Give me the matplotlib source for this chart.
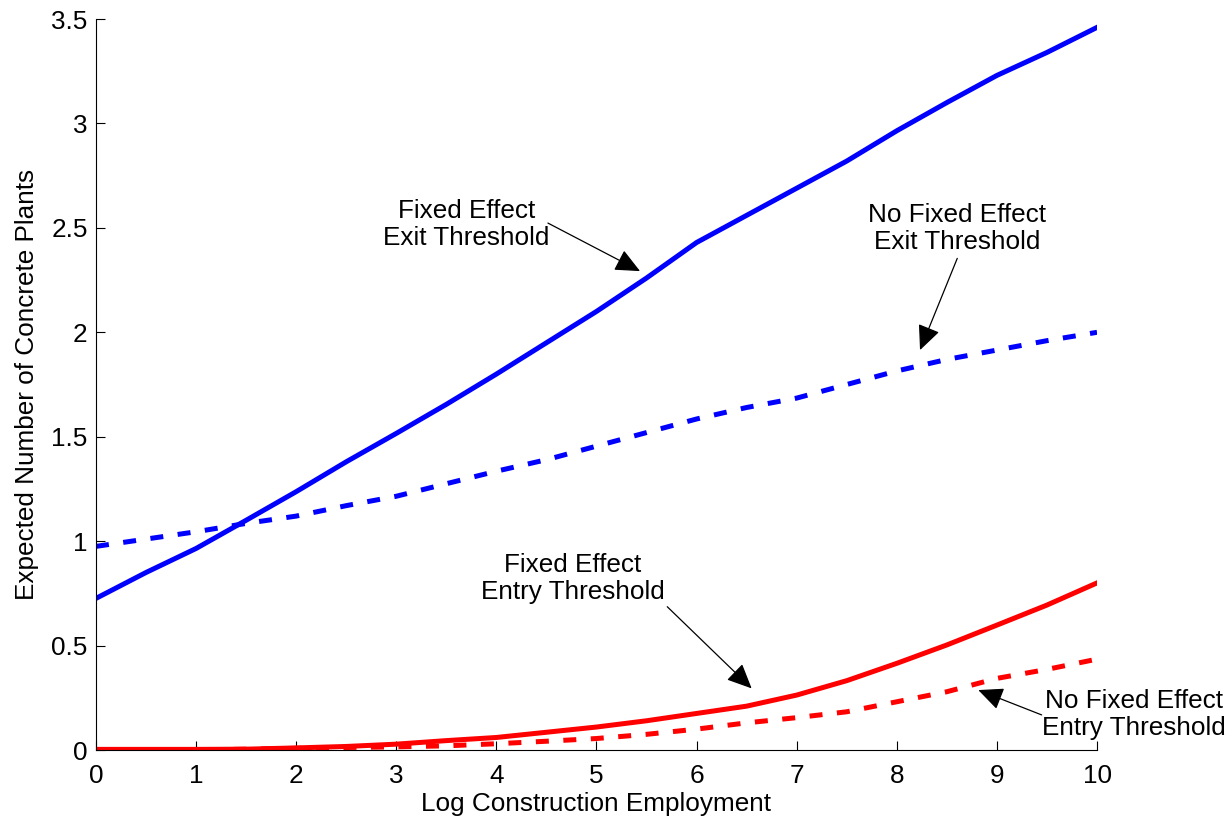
import matplotlib
matplotlib.use("Agg")
import matplotlib.pyplot as plt

plt.rcParams['font.family'] = ['Liberation Sans', 'DejaVu Sans']
plt.rcParams['font.size'] = 18.8

# log construction employment grid
x = [0, 0.5, 1, 1.5, 2, 2.5, 3, 3.5, 4, 4.5, 5,
     5.5, 6, 6.5, 7, 7.5, 8, 8.5, 9, 9.5, 10]

# expected number of plants under each threshold
fe_exit = [0.726, 0.85, 0.965, 1.10, 1.237, 1.38, 1.516, 1.655, 1.80, 1.95, 2.10,
           2.26, 2.43, 2.56, 2.69, 2.82, 2.965, 3.10, 3.23, 3.34, 3.46]
nofe_exit = [0.975, 1.01, 1.045, 1.085, 1.12, 1.17, 1.215, 1.275, 1.335, 1.39, 1.455,
             1.52, 1.585, 1.64, 1.685, 1.75, 1.815, 1.87, 1.915, 1.96, 2.0]
fe_entry = [0.003, 0.003, 0.003, 0.004, 0.01, 0.017, 0.028, 0.045, 0.06, 0.085, 0.11,
            0.14, 0.175, 0.21, 0.263, 0.332, 0.415, 0.503, 0.598, 0.694, 0.80]
nofe_entry = [0.0, 0.0, 0.0, 0.004, 0.008, 0.012, 0.015, 0.02, 0.03, 0.042, 0.055,
              0.075, 0.10, 0.13, 0.155, 0.183, 0.231, 0.279, 0.343, 0.386, 0.435]

yticks = [0, 0.5, 1, 1.5, 2, 2.5, 3, 3.5]
ytick_labels = ['0', '0.5', '1', '1.5', '2', '2.5', '3', '3.5']

fig = plt.figure(figsize=(12.29, 8.17), dpi=100)
ax = fig.add_axes([0.0781, 0.082, 0.8145, 0.8947])

lw = 3.6
dash = (2.6, 2.9)
ax.plot(x, fe_exit, color='b', lw=lw)
ax.plot(x, nofe_exit, color='b', lw=lw, dashes=dash)
ax.plot(x, fe_entry, color='r', lw=lw)
ax.plot(x, nofe_entry, color='r', lw=lw, dashes=dash)

ax.set_xlim(0, 10)
ax.set_ylim(0, 3.5)
ax.set_xticks(range(11))
ax.set_yticks(yticks)
ax.set_yticklabels(ytick_labels)
ax.spines['top'].set_visible(False)
ax.spines['right'].set_visible(False)
for s in ['left', 'bottom']:
    ax.spines[s].set_linewidth(0.8)
ax.tick_params(direction='in', length=6.5, width=0.8)
ax.tick_params(axis='x', pad=10)
ax.tick_params(axis='y', pad=6)

ax.set_xlabel('Log Construction Employment', labelpad=3)
ax.set_ylabel('Expected Number of Concrete Plants', labelpad=9)

arrow = dict(arrowstyle='-|>,head_length=1.1,head_width=0.5',
             mutation_scale=14, lw=0.9, color='k', shrinkA=0, shrinkB=0)

# (label, text position, arrow tail, arrow tip)
notes = [
    ('Fixed Effect\nExit Threshold', (3.70, 2.518), (4.515, 2.523), (5.435, 2.293)),
    ('No Fixed Effect\nExit Threshold', (8.60, 2.499), (8.604, 2.354), (8.232, 1.915)),
    ('Fixed Effect\nEntry Threshold', (4.765, 0.821), (5.707, 0.686), (6.55, 0.295)),
    ('No Fixed Effect\nEntry Threshold', (10.37, 0.172), (9.447, 0.168), (8.814, 0.287)),
]
for label, pos, tail, tip in notes:
    ax.text(pos[0], pos[1], label, ha='center', va='center', linespacing=1.15)
    ax.annotate('', xy=tip, xytext=tail, arrowprops=arrow)

fig.savefig('out.png', dpi=100)
